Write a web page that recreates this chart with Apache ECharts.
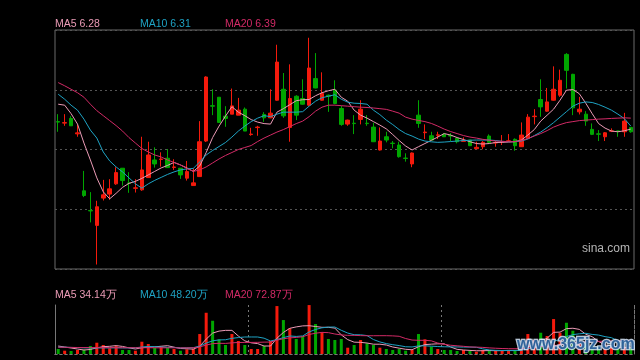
<!DOCTYPE html>
<html><head><meta charset="utf-8">
<script src="https://cdn.jsdelivr.net/npm/echarts@6/dist/echarts.min.js"></script>
<style>html,body{margin:0;padding:0;background:#000;}#c{width:640px;height:360px;}</style>
</head><body><div id="c"></div>
<script>
const categories = ['1','2','3','4','5','6','7','8','9','10','11','12','13','14','15','16','17','18','19','20','21','22','23','24','25','26','27','28','29','30','31','32','33','34','35','36','37','38','39','40','41','42','43','44','45','46','47','48','49','50','51','52','53','54','55','56','57','58','59','60','61','62','63','64','65','66','67','68','69','70','71','72','73','74','75','76','77','78','79','80','81','82','83','84','85','86','87','88','89','90'];

const opens = [6.355,6.34,6.387,6.232,5.66,5.462,5.313,5.587,5.627,5.73,
5.887,5.739,5.685,5.67,5.793,5.97,5.975,5.987,5.895,5.887,
5.787,5.713,5.803,6.16,6.515,6.60,6.41,6.43,6.42,6.48,
6.225,6.295,6.427,6.393,6.57,6.68,6.297,6.61,6.587,6.52,
6.787,6.57,6.62,6.67,6.487,6.33,6.339,6.377,6.339,6.30,
6.07,6.203,6.139,6.12,5.989,5.93,6.42,6.244,6.213,6.217,
6.227,6.215,6.187,6.157,6.17,6.083,6.103,6.21,6.14,6.15,
6.158,6.177,6.103,6.187,6.405,6.577,6.46,6.57,6.62,7.03,
6.83,6.453,6.43,6.277,6.232,6.203,6.258,6.262,6.253,6.297];

const closes = [6.35,6.345,6.313,6.242,5.613,5.458,5.5,5.62,5.68,5.843,
5.763,5.735,5.69,5.87,6.02,5.93,5.98,5.893,5.9,5.82,
5.853,5.74,6.153,6.803,6.51,6.347,6.387,6.513,6.47,6.26,
6.23,6.30,6.393,6.44,6.953,6.413,6.587,6.42,6.53,6.893,
6.693,6.637,6.61,6.537,6.327,6.37,6.335,6.48,6.335,6.153,
6.16,6.17,6.135,6.003,5.985,6.04,6.337,6.25,6.17,6.222,
6.203,6.21,6.153,6.162,6.113,6.097,6.147,6.147,6.145,6.155,
6.162,6.113,6.22,6.40,6.41,6.503,6.553,6.68,6.77,6.87,
6.493,6.48,6.36,6.227,6.228,6.243,6.262,6.258,6.36,6.253];

const lows = [6.253,6.313,6.313,6.203,5.597,5.343,4.92,5.563,5.57,5.72,
5.713,5.64,5.643,5.66,5.79,5.893,5.903,5.89,5.87,5.78,
5.763,5.713,5.80,6.15,6.42,6.345,6.303,6.43,6.42,6.26,
6.213,6.213,6.353,6.39,6.565,6.393,6.153,6.37,6.525,6.515,
6.69,6.565,6.453,6.53,6.313,6.313,6.23,6.327,6.313,6.15,
6.065,6.147,6.087,5.993,5.953,5.897,6.293,6.18,6.165,6.18,
6.2,6.16,6.137,6.155,6.11,6.083,6.077,6.145,6.103,6.12,
6.155,6.063,6.10,6.185,6.327,6.403,6.455,6.565,6.603,6.687,
6.42,6.427,6.313,6.22,6.16,6.16,6.25,6.203,6.203,6.243];

const highs = [6.43,6.43,6.41,6.327,5.86,5.647,5.56,5.77,5.777,5.897,
5.887,5.847,5.777,6.203,6.153,6.097,6.047,6.08,5.977,5.887,
5.96,5.887,6.36,6.81,6.68,6.60,6.51,6.687,6.593,6.497,
6.293,6.313,6.45,6.68,7.127,6.843,6.93,6.62,6.78,7.197,
7.043,6.85,6.627,6.77,6.513,6.375,6.42,6.57,6.42,6.343,
6.297,6.253,6.16,6.153,6.037,6.045,6.57,6.327,6.253,6.253,
6.24,6.24,6.19,6.197,6.17,6.153,6.16,6.227,6.16,6.22,
6.23,6.187,6.347,6.43,6.48,6.78,6.693,6.91,6.877,7.043,
6.835,6.603,6.46,6.337,6.27,6.25,6.287,6.265,6.443,6.30];

const ma5 = [6.53,6.52,6.435,6.33,6.14,5.97,5.79,5.65,5.58,5.635,
5.695,5.735,5.755,5.785,5.82,5.855,5.89,5.915,5.945,5.92,
5.89,5.855,5.91,6.045,6.195,6.31,6.41,6.505,6.45,6.415,
6.375,6.35,6.335,6.33,6.45,6.485,6.525,6.565,6.575,6.577,
6.615,6.645,6.665,6.68,6.60,6.56,6.47,6.42,6.39,6.355,
6.32,6.282,6.225,6.165,6.11,6.07,6.103,6.135,6.167,6.20,
6.235,6.22,6.195,6.175,6.153,6.135,6.13,6.135,6.145,6.147,
6.15,6.153,6.17,6.22,6.275,6.36,6.42,6.48,6.57,6.67,
6.677,6.635,6.54,6.435,6.335,6.29,6.26,6.253,6.263,6.28];

const ma10 = [6.63,6.58,6.52,6.47,6.38,6.27,6.19,6.05,5.96,5.90,
5.85,5.79,5.73,5.687,5.73,5.765,5.795,5.825,5.85,5.87,
5.88,5.885,5.95,6.02,6.065,6.105,6.145,6.20,6.26,6.31,
6.355,6.39,6.415,6.405,6.43,6.45,6.45,6.45,6.455,6.51,
6.56,6.595,6.61,6.625,6.58,6.55,6.54,6.537,6.53,6.47,
6.425,6.37,6.325,6.275,6.235,6.21,6.18,6.16,6.152,6.147,
6.15,6.155,6.16,6.165,6.168,6.17,6.17,6.17,6.165,6.157,
6.153,6.155,6.16,6.18,6.215,6.25,6.295,6.345,6.40,6.455,
6.51,6.54,6.553,6.547,6.527,6.50,6.47,6.43,6.385,6.31];

const ma20 = [6.747,6.715,6.68,6.645,6.60,6.53,6.465,6.415,6.365,6.315,
6.26,6.195,6.14,6.085,6.05,6.02,6.00,5.97,5.945,5.92,
5.885,5.855,5.87,5.90,5.94,5.98,6.015,6.045,6.075,6.095,
6.115,6.155,6.19,6.22,6.25,6.275,6.305,6.335,6.36,6.405,
6.46,6.50,6.52,6.52,6.515,6.51,6.505,6.50,6.497,6.492,
6.485,6.478,6.46,6.44,6.40,6.38,6.367,6.355,6.337,6.31,
6.28,6.255,6.235,6.215,6.20,6.19,6.177,6.168,6.16,6.157,
6.153,6.155,6.165,6.185,6.21,6.235,6.265,6.30,6.325,6.345,
6.355,6.365,6.37,6.375,6.38,6.383,6.387,6.39,6.393,6.39];

const volumes = [27.0,17.8,16.2,21.6,24.3,43.2,61.0,48.6,30.8,43.2,
21.6,21.6,17.8,66.4,54.0,32.4,39.4,32.4,27.0,17.8,
25.4,28.6,108.0,223.0,179.8,79.4,48.6,108.0,70.2,48.6,
27.0,27.0,43.2,70.2,259.2,183.6,138.8,81.0,97.2,264.6,
162.0,117.2,81.0,75.6,81.0,34.0,48.6,75.6,57.8,48.6,
34.0,27.0,21.6,27.0,17.8,21.6,108.0,79.4,39.4,27.0,
21.6,21.6,16.2,21.6,16.2,12.4,21.6,21.6,17.8,17.8,
17.8,21.6,30.8,108.0,75.6,115.0,97.2,189.0,115.0,169.0,
125.8,66.4,57.8,48.6,39.4,30.8,39.4,27.0,39.4,30.8];

const volMa5 = [43.2,37.8,32.4,27.0,21.4,24.6,33.3,39.7,41.6,45.4,
41.0,33.2,27.0,34.1,36.3,38.4,42.0,44.9,37.0,29.8,
28.4,26.2,41.4,80.6,113.0,123.8,127.8,127.8,97.2,71.0,
60.5,56.2,43.2,43.2,85.3,116.6,139.0,146.6,152.0,153.0,
148.7,144.4,144.4,140.1,103.4,77.8,64.0,63.0,59.4,52.9,
52.9,48.6,37.8,31.6,25.5,23.0,39.2,50.8,53.2,55.1,
55.1,37.8,25.2,21.6,19.4,17.6,17.6,18.7,17.9,18.3,
19.3,19.3,21.2,39.2,50.8,70.2,85.3,117.0,118.4,137.1,
139.2,133.1,106.8,93.5,67.6,48.6,43.2,37.0,35.2,34.1];

const volMa10 = [37.8,36.7,35.6,34.6,33.5,32.9,32.9,32.9,32.9,33.4,
32.8,33.2,33.4,37.9,40.8,39.7,37.6,36.0,35.6,33.0,
33.4,34.1,43.1,58.8,71.4,76.1,77.0,84.6,88.9,92.0,
92.1,92.0,85.5,70.2,78.1,88.6,97.6,94.9,97.6,119.2,
132.7,141.7,145.5,146.0,128.2,113.2,104.2,103.7,99.7,78.1,
65.3,56.3,50.4,45.5,39.2,38.0,43.9,44.3,42.4,40.3,
39.0,38.5,38.0,37.4,37.3,36.3,27.7,21.9,19.8,18.8,
18.5,18.5,19.9,28.6,34.5,44.8,52.3,69.1,78.8,93.9,
104.7,109.2,111.9,105.9,102.3,93.9,88.1,71.9,64.4,48.2];

const volMa20 = [36.7,36.2,35.6,35.1,34.6,34.6,34.6,34.6,34.6,34.6,
34.0,34.0,34.0,34.0,34.0,33.5,33.5,33.5,33.5,33.2,
33.2,33.7,38.3,48.3,56.1,57.9,57.3,60.3,62.3,62.5,
62.8,63.1,64.3,64.5,74.8,82.4,87.3,89.7,93.3,105.6,
112.4,116.9,115.5,108.1,103.2,100.9,100.9,99.3,98.7,98.7,
99.0,99.0,98.0,95.8,83.7,75.6,74.1,74.0,71.1,59.2,
52.2,47.4,44.2,41.5,38.2,37.2,35.8,33.1,31.1,29.6,
28.8,28.5,28.9,33.0,35.9,40.6,40.0,45.5,49.3,56.4,
61.6,63.8,65.9,67.3,68.4,69.3,70.3,70.5,71.6,72.9];

const priceLegend = ['MA5 6.28', 'MA10 6.31', 'MA20 6.39'];
const volLegend = ['MA5 34.14万', 'MA10 48.20万', 'MA20 72.87万'];

const UP = '#f41a0c', DOWN = '#00a600';
const C5 = '#eb9bb6', C10 = '#1ea3c4', C20 = '#d22a66';
const DOT = [2, 3];

const kData = opens.map((o, i) => [o, closes[i], lows[i], highs[i]]);
const volData = volumes.map((v, i) => ({ value: v, itemStyle: { color: closes[i] >= opens[i] ? UP : DOWN } }));

const chart = echarts.init(document.getElementById('c'), null, { renderer: 'canvas' });
const hiddenX = { axisLine: { show: false }, axisTick: { show: false }, axisLabel: { show: false }, splitLine: { show: false } };
const font = '10.5px "Liberation Sans", Arial, sans-serif';
function legendTexts(arr, y) {
  const xs = [55, 140, 225];
  const cols = [C5, C10, C20];
  return arr.map((t, i) => ({ type: 'text', x: xs[i], y: y, style: { text: t, fill: cols[i], font: font, textVerticalAlign: 'middle' } }));
}
chart.setOption({
  backgroundColor: '#000',
  animation: false,
  grid: [
    { left: 55, right: 6, top: 30, height: 239, show: true, borderColor: '#6a6a6a', borderWidth: 1, backgroundColor: 'transparent' },
    { left: 55, right: 6, top: 305, height: 49 }
  ],
  xAxis: [
    Object.assign({ type: 'category', data: categories, gridIndex: 0, boundaryGap: true }, hiddenX),
    { type: 'category', data: categories, gridIndex: 1, boundaryGap: true,
      axisLine: { show: true, lineStyle: { color: '#777', type: DOT } }, axisTick: { show: false }, axisLabel: { show: false },
      splitLine: { show: true, interval: (i) => i === 30 || i === 60, lineStyle: { color: '#777', type: DOT } } },
    { type: 'category', data: categories, gridIndex: 1, boundaryGap: true, position: 'top',
      axisLine: { show: true, lineStyle: { color: '#777', type: DOT } }, axisTick: { show: false }, axisLabel: { show: false }, splitLine: { show: false } }
  ],
  yAxis: [
    { type: 'value', gridIndex: 0, min: 4.875, max: 7.275, position: 'left', axisLine: { show: false }, axisTick: { show: false }, axisLabel: { show: false }, splitLine: { show: false } },
    { type: 'value', gridIndex: 0, min: 0, max: 4, interval: 1, position: 'right', axisLine: { show: false }, axisTick: { show: false }, axisLabel: { show: false },
      splitLine: { show: true, lineStyle: { color: '#555', type: DOT } } },
    { type: 'value', gridIndex: 1, min: 0, max: 265, position: 'left', axisLine: { show: true, lineStyle: { color: '#777' } }, axisTick: { show: false }, axisLabel: { show: false }, splitLine: { show: false } },
    { type: 'value', gridIndex: 1, min: 0, max: 265, position: 'right', axisLine: { show: true, lineStyle: { color: '#777', type: DOT } }, axisTick: { show: false }, axisLabel: { show: false }, splitLine: { show: false } }
  ],
  series: [
    { type: 'candlestick', xAxisIndex: 0, yAxisIndex: 0, data: kData, barWidth: 4,
      itemStyle: { color: UP, color0: DOWN, borderColor: UP, borderColor0: DOWN, borderWidth: 1 } },
    { type: 'line', xAxisIndex: 0, yAxisIndex: 0, data: ma5, symbol: 'none', lineStyle: { color: C5, width: 1 } },
    { type: 'line', xAxisIndex: 0, yAxisIndex: 0, data: ma10, symbol: 'none', lineStyle: { color: C10, width: 1 } },
    { type: 'line', xAxisIndex: 0, yAxisIndex: 0, data: ma20, symbol: 'none', lineStyle: { color: C20, width: 1 } },
    { type: 'bar', xAxisIndex: 1, yAxisIndex: 2, data: volData, barWidth: 3 },
    { type: 'line', xAxisIndex: 1, yAxisIndex: 2, data: volMa5, symbol: 'none', lineStyle: { color: C5, width: 1 } },
    { type: 'line', xAxisIndex: 1, yAxisIndex: 2, data: volMa10, symbol: 'none', lineStyle: { color: C10, width: 1 } },
    { type: 'line', xAxisIndex: 1, yAxisIndex: 2, data: volMa20, symbol: 'none', lineStyle: { color: C20, width: 1 } }
  ],
  graphic: [].concat(
    legendTexts(priceLegend, 24),
    legendTexts(volLegend, 295),
    [
      { type: 'text', x: 582, y: 249, style: { text: 'sina.com', fill: '#b4b4b4', font: '12px "Liberation Sans", Arial, sans-serif', textVerticalAlign: 'middle' } },
      { type: 'text', x: 517, y: 345, z: 100, style: { text: 'www.365jz.com', fill: '#2f639b', stroke: 'rgba(215,232,250,0.85)', lineWidth: 2.5, font: 'bold 16px "Liberation Sans", Arial, sans-serif', textVerticalAlign: 'middle' } }
    ]
  )
});
</script>
</body></html>
